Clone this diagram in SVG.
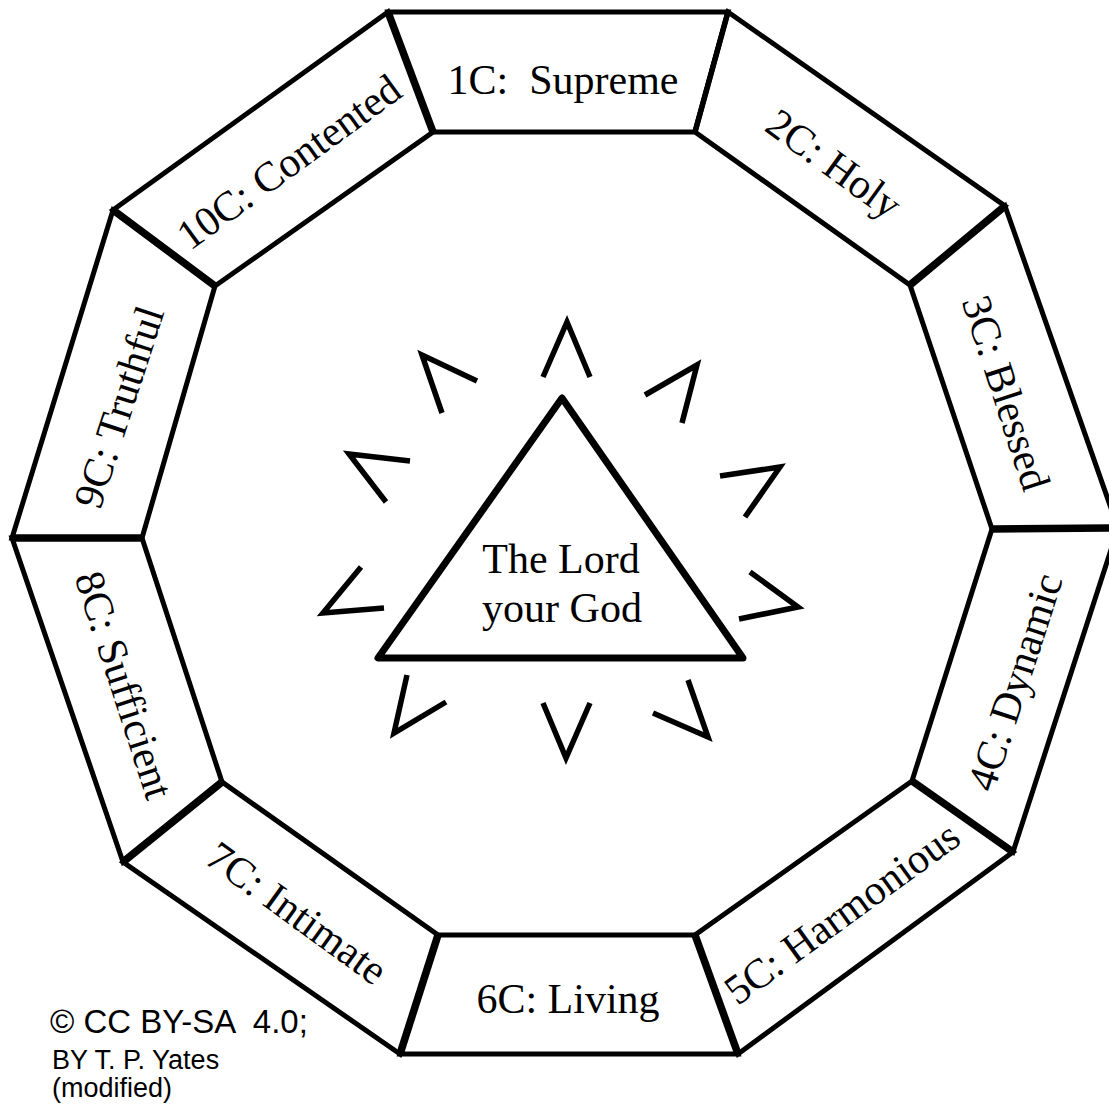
<svg xmlns="http://www.w3.org/2000/svg" width="1109" height="1109" viewBox="0 0 1109 1109">
<style>
.seg{fill:#fff;stroke:#000;stroke-width:5;stroke-linejoin:miter}
.div{stroke:#000;stroke-width:7.5;stroke-linecap:butt}
.divt{stroke:#000;stroke-width:5.5;stroke-linecap:butt}
.lbl{font-family:"Liberation Serif","Times New Roman",serif;font-size:42px;fill:#000;text-anchor:middle;white-space:pre}
.chev{fill:none;stroke:#000;stroke-width:5.5;stroke-linejoin:miter;stroke-linecap:butt}
.tri{fill:#fff;stroke:#000;stroke-width:7;stroke-linejoin:round}
.cc{font-family:"Liberation Sans",Arial,sans-serif;fill:#000;white-space:pre}
</style>
<rect width="1109" height="1109" fill="#fff"/>
<g id="ring">
<g id="seg1"><polygon class="seg" points="388,12 728,12 695,132 433,132"/><text class="lbl" transform="translate(563,80)" y="14">1C:  Supreme</text></g>
<g id="seg2"><polygon class="seg" points="728,12 1005,206 910,285 695,132"/><text class="lbl" transform="translate(834,164) rotate(36)" y="14">2C: Holy</text></g>
<g id="seg3"><polygon class="seg" points="1005,206 1118,528 992,529 910,285"/><text class="lbl" transform="translate(1006,393) rotate(72)" y="14">3C: Blessed</text></g>
<g id="seg4"><polygon class="seg" points="1118,528 1013,852 912,781 992,529"/><text class="lbl" transform="translate(1015,682) rotate(-72)" y="14">4C: Dynamic</text></g>
<g id="seg5"><polygon class="seg" points="1013,852 738,1054 695,935 912,781"/><text class="lbl" transform="translate(842,913) rotate(-36)" y="14">5C: Harmonious</text></g>
<g id="seg6"><polygon class="seg" points="738,1054 400,1054 438,935 695,935"/><text class="lbl" transform="translate(568,999)" y="14">6C: Living</text></g>
<g id="seg7"><polygon class="seg" points="400,1054 123,862 222,782 438,935"/><text class="lbl" transform="translate(297,913) rotate(36)" y="14">7C: Intimate</text></g>
<g id="seg8"><polygon class="seg" points="123,862 12,538 142,538 222,782"/><text class="lbl" transform="translate(124,685) rotate(72)" y="14">8C: Sufficient</text></g>
<g id="seg9"><polygon class="seg" points="12,538 113,210 215,286 142,538"/><text class="lbl" transform="translate(119,407) rotate(-72)" y="14">9C: Truthful</text></g>
<g id="seg10"><polygon class="seg" points="113,210 388,12 433,132 215,286"/><text class="lbl" transform="translate(289,162) rotate(-36)" y="14">10C: Contented</text></g>
</g>
<g id="connectors">
<line class="div" x1="388" y1="12" x2="433" y2="132"/>
<line class="divt" x1="728" y1="12" x2="695" y2="132"/>
<line class="div" x1="1005" y1="206" x2="910" y2="285"/>
<line class="div" x1="1118" y1="528" x2="992" y2="529"/>
<line class="div" x1="1013" y1="852" x2="912" y2="781"/>
<line class="div" x1="738" y1="1054" x2="695" y2="935"/>
<line class="div" x1="400" y1="1054" x2="438" y2="935"/>
<line class="div" x1="123" y1="862" x2="222" y2="782"/>
<line class="div" x1="12" y1="538" x2="142" y2="538"/>
<line class="div" x1="113" y1="210" x2="215" y2="286"/>
</g>
<g id="rays">
<polyline class="chev" points="543,377 567,322 590,377"/>
<polyline class="chev" points="442,413 422,355 477,381"/>
<polyline class="chev" points="645,395 697,365 682,423"/>
<polyline class="chev" points="410,461 349,454 386,502"/>
<polyline class="chev" points="720,476 780,467 745,517"/>
<polyline class="chev" points="361,567 323,613 384,608"/>
<polyline class="chev" points="750,572 798,607 739,619"/>
<polyline class="chev" points="407,675 394,733 446,702"/>
<polyline class="chev" points="543,703 566,758 590,703"/>
<polyline class="chev" points="688,680 708,737 653,713"/>
</g>
<g id="god">
<polygon class="tri" points="562,398 378,658 743,658"/>
<text class="lbl" x="561" y="573">The Lord</text>
<text class="lbl" x="562" y="622">your God</text>
</g>
<g id="credit">
<text class="cc" x="50" y="1033" font-size="33">© CC BY-SA  4.0;</text>
<text class="cc" x="52" y="1069" font-size="27">BY T. P. Yates</text>
<text class="cc" x="52" y="1097" font-size="27">(modified)</text>
</g>
</svg>
